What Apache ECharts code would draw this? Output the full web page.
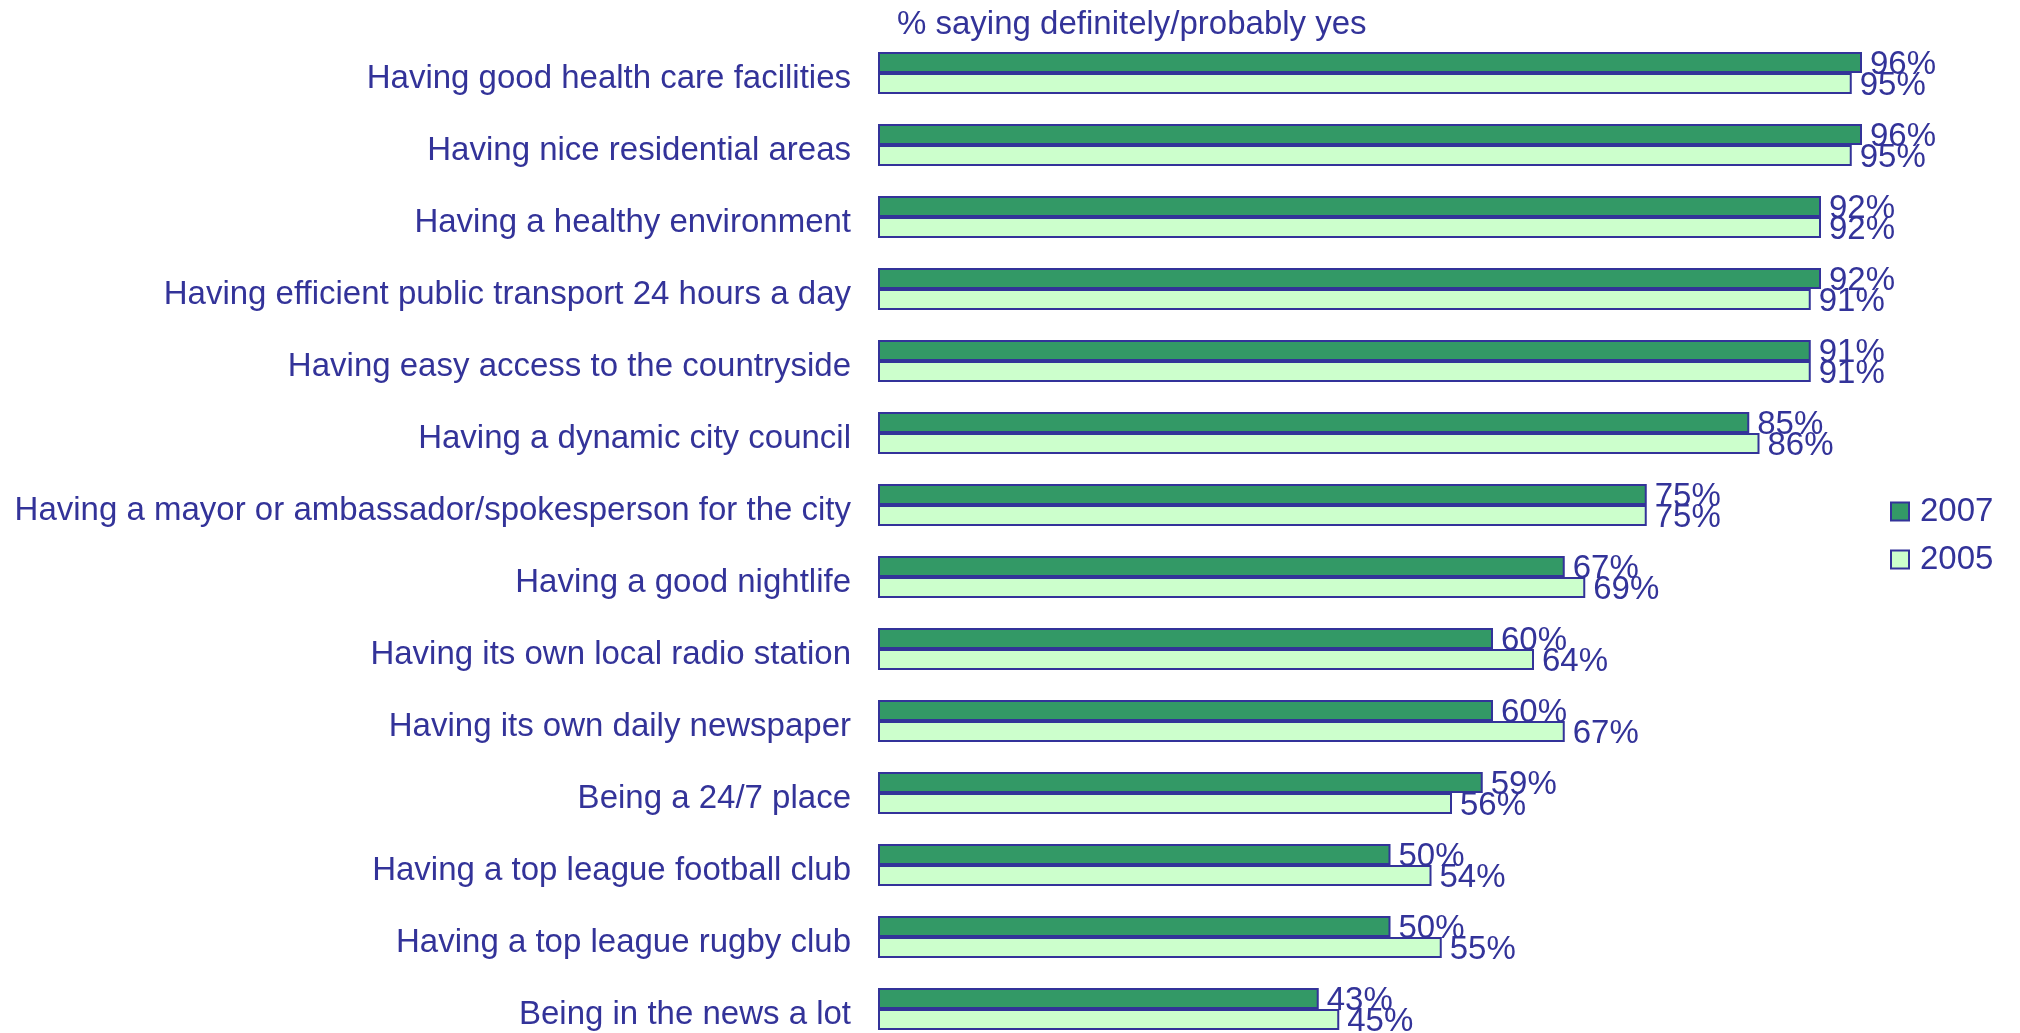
<!DOCTYPE html>
<html>
<head>
<meta charset="utf-8">
<script src="https://cdn.jsdelivr.net/npm/echarts@6/dist/echarts.min.js"></script>
<style>
  html, body { margin: 0; padding: 0; background: #fff; overflow: hidden; }
  #chart { width: 2020px; height: 1033px; }
</style>
</head>
<body>
<div id="chart"></div>
<script>
const categories = [
  'Having good health care facilities',
  'Having nice residential areas',
  'Having a healthy environment',
  'Having efficient public transport 24 hours a day',
  'Having easy access to the countryside',
  'Having a dynamic city council',
  'Having a mayor or ambassador/spokesperson for the city',
  'Having a good nightlife',
  'Having its own local radio station',
  'Having its own daily newspaper',
  'Being a 24/7 place',
  'Having a top league football club',
  'Having a top league rugby club',
  'Being in the news a lot'
]
const values2007 = [96, 96, 92, 92, 91, 85, 75, 67, 60, 60, 59, 50, 50, 43]
const values2005 = [95, 95, 92, 91, 91, 86, 75, 69, 64, 67, 56, 54, 55, 45]
const seriesNames = ['2007', '2005']

const ink = '#333399'
const font = "'Liberation Sans', Arial, sans-serif"

// label on the end of each bar, e.g. 96%
const barLabel = {
  show: true,
  position: 'right',
  distance: 8,
  offset: [0, 2],
  formatter: '{c}%',
  color: ink,
  fontSize: 33,
  fontFamily: font
}

const option = {
  animation: false,
  title: {
    text: '% saying definitely/probably yes',
    left: 892,
    top: 3,
    textStyle: { color: ink, fontSize: 33, fontWeight: 'normal', fontFamily: font }
  },
  legend: {
    data: seriesNames,
    orient: 'vertical',
    left: 1885,
    top: 490,
    icon: 'rect',
    itemWidth: 18,
    itemHeight: 18,
    itemGap: 15,
    textStyle: { color: ink, fontSize: 33, fontFamily: font, lineHeight: 33, padding: [0, 0, 0, 6] }
  },
  grid: {
    left: 878,
    top: 37,
    width: 1025,
    height: 1008,
    outerBoundsMode: 'none'
  },
  xAxis: {
    type: 'value',
    min: 0,
    max: 100,
    show: false
  },
  yAxis: {
    type: 'category',
    data: categories,
    inverse: true,
    axisLine: { show: false },
    axisTick: { show: false },
    axisLabel: {
      margin: 27,
      formatter: (v) => '{a|' + v + '}',
      // nudge the text a little below the band centre, as in the original
      rich: {
        a: { color: ink, fontSize: 33, fontFamily: font, lineHeight: 33, padding: [12, 0, 0, 0] }
      }
    }
  },
  series: [
    {
      name: seriesNames[0],
      type: 'bar',
      data: values2007,
      barWidth: 21,
      barGap: '0%',
      itemStyle: { color: '#339966', borderColor: ink, borderWidth: 2 },
      label: barLabel
    },
    {
      name: seriesNames[1],
      type: 'bar',
      data: values2005,
      barWidth: 21,
      barGap: '0%',
      itemStyle: { color: '#ccffcc', borderColor: ink, borderWidth: 2 },
      label: barLabel
    }
  ]
}

echarts.init(document.getElementById('chart')).setOption(option)
</script>
</body>
</html>
